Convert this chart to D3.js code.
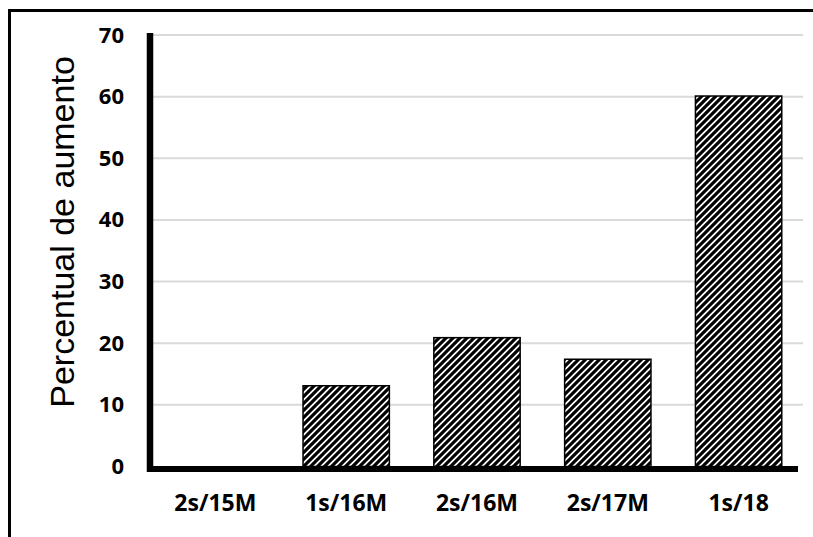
<!DOCTYPE html>
<html><head><meta charset="utf-8">
<script src="https://cdn.jsdelivr.net/npm/d3@7"></script>
<style>body{margin:0;background:#fff}svg{display:block}</style>
</head><body>
<script>
const categories = ["2s/15M","1s/16M","2s/16M","2s/17M","1s/18"];
const values = [0, 13.1, 20.9, 17.4, 60.1];
const yTicks = [0,10,20,30,40,50,60,70];
const yTitle = "Percentual de aumento";

const W=813,H=537;
const svg=d3.select("body").append("svg").attr("width",W).attr("height",H);
const defs=svg.append("defs");
const pat=defs.append("pattern").attr("id","hatch").attr("patternUnits","userSpaceOnUse")
  .attr("width",7).attr("height",7);
pat.append("rect").attr("width",7).attr("height",7).attr("fill","#fff");
pat.append("path").attr("d","M-2,2 l4,-4 M0,7 l7,-7 M5,9 l4,-4")
  .attr("stroke","#000").attr("stroke-width",3.2);

// outer frame
svg.append("rect").attr("x",9.5).attr("y",10.5).attr("width",900).attr("height",700)
  .attr("fill","none").attr("stroke","#000").attr("stroke-width",3);

const x=d3.scaleBand().domain(categories).range([150,804]).paddingInner(0.34).paddingOuter(0.17);
const y=d3.scaleLinear().domain([0,70]).range([466.5,35]);

// gridlines
svg.append("g").selectAll("line").data(yTicks.filter(d=>d>0)).join("line")
  .attr("x1",150).attr("x2",803).attr("y1",d=>y(d)).attr("y2",d=>y(d))
  .attr("stroke","#d9d9d9").attr("stroke-width",2);

// bars
svg.append("g").selectAll("rect").data(categories).join("rect")
  .attr("x",d=>x(d)).attr("width",x.bandwidth())
  .attr("y",(d,i)=>y(values[i])).attr("height",(d,i)=>y(0)-y(values[i]))
  .attr("fill","url(#hatch)").attr("stroke","#000").attr("stroke-width",1.5)
  .style("display",(d,i)=>values[i]>0?null:"none");

// y axis
const ya=svg.append("g").attr("transform","translate(150,0)")
  .call(d3.axisLeft(y).tickValues(yTicks).tickSize(0).tickPadding(26));
ya.select(".domain").attr("stroke","#000").attr("stroke-width",6.5).attr("d","M0,33V472");
ya.selectAll("text").attr("font-family","'Open Sans',sans-serif").attr("font-weight","bold")
  .attr("font-size",22).attr("fill","#000");

// x axis
const xa=svg.append("g").attr("transform","translate(0,469)")
  .call(d3.axisBottom(x).tickSize(0).tickPadding(26));
xa.select(".domain").attr("stroke","#000").attr("stroke-width",6).attr("d","M147,0H798");
xa.selectAll("text").attr("font-family","'Open Sans',sans-serif").attr("font-weight","bold")
  .attr("font-size",23).attr("fill","#000");

// y title
svg.append("text").attr("transform","translate(74,232) rotate(-90)")
  .attr("text-anchor","middle").attr("font-family","'Liberation Sans',Arial,sans-serif")
  .attr("font-size",34).attr("fill","#000").text(yTitle);
</script>
</body></html>
